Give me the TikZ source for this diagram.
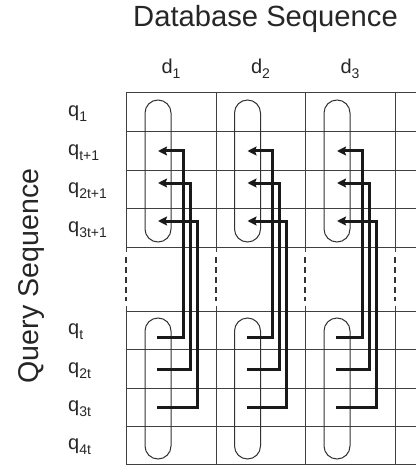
\documentclass[tikz,border=0pt]{standalone}
\usepackage{fontspec}
\setmainfont{Liberation Sans}
\usetikzlibrary{arrows.meta}

\newcommand{\subtxt}[1]{\raisebox{-5pt}{\fontsize{14}{15}\selectfont #1}}

\begin{document}
\begin{tikzpicture}[
        x=1pt, y=-1pt,
        gridline/.style={draw=black!75, line width=1pt},
        gapline/.style={draw=black!80, line width=2.2pt, dash pattern=on 6pt off 4pt},
        pill/.style={draw=black!80, line width=1pt, rounded corners=13pt},
        link/.style={draw=black!90, line width=3pt, -{Stealth[length=9pt, width=9pt, inset=1.5pt]}},
        lab/.style={font=\fontsize{20}{22}\selectfont, text=black!85, inner sep=0pt},
        big/.style={font=\fontsize{28.6}{32}\selectfont, text=black!85, inner sep=0pt},
    ]
    \useasboundingbox (0,0) rectangle (416,465);

    %% ---- Titles ----
    \node[big, font=\fontsize{29.2}{32}\selectfont, anchor=base] (dbtitle) at (265.5,27) {Database Sequence};
    \node[big, anchor=base, rotate=90] (qtitle) at (38.5,276) {Query Sequence};

    %% ---- Grid ----
    \foreach \y in {93,132,170,208,247,311,349,388,426,464}
        \draw[gridline] (126,\y) -- (416,\y);
    \foreach \x in {126,216,305,395} {
        \draw[gridline] (\x,93) -- (\x,252);
        \draw[gridline] (\x,306) -- (\x,464);
        \draw[gapline] (\x,257) -- (\x,301);
    }

    %% ---- Column labels ----
    \foreach \c in {1,2,3} {
        \node[lab, anchor=base] (d\c) at (171+89.5*\c-89.5,74) {d\subtxt{\c}};
    }

    %% ---- Row labels ----
    \foreach \n/\s/\yc in {q1/1/112.5, qt1/t+1/151, q2t1/2t+1/189, q3t1/3t+1/227.5,
                           qt/t/330, q2t/2t/368.5, q3t/3t/407, q4t/4t/445} {
        \node[lab, anchor=base west] (\n) at (68,\yc+4.5) {q\subtxt{\s}};
    }

    %% ---- Pills and links per column ----
    \foreach \c in {1,2,3} {
        \pgfmathsetmacro{\xl}{126+89.5*(\c-1)}
        \draw[pill] (\xl+19,100) rectangle (\xl+45,242);
        \draw[pill] (\xl+19,318) rectangle (\xl+45,459);
        % lower rows feed back up to the upper rows
        \foreach \k/\yb/\yt/\dx in {1/337/151/57, 2/369/183/64, 3/407/221/71} {
            \coordinate (from\c\k) at (\xl+31,\yb);
            \coordinate (to\c\k) at (\xl+32,\yt);
            \draw[link] (from\c\k) -| (\xl+\dx,\yt) -- (to\c\k);
        }
    }

\end{tikzpicture}
\end{document}
